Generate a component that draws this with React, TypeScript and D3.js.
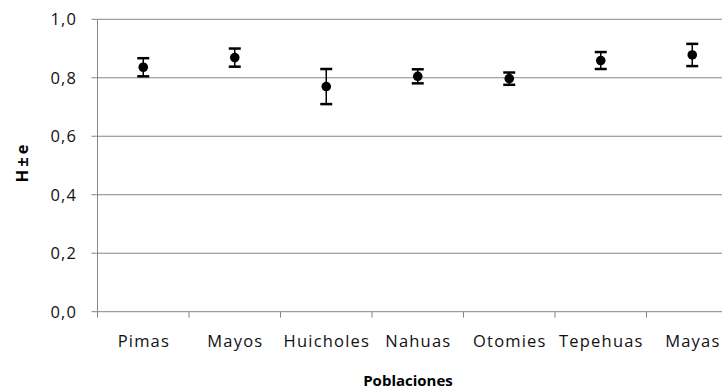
import React from "react";
import * as d3 from "d3";

const populations = ["Pimas", "Mayos", "Huicholes", "Nahuas", "Otomies", "Tepehuas", "Mayas"];
const heterozygosity = [0.836, 0.869, 0.770, 0.805, 0.797, 0.859, 0.878];
const stdError = [0.031, 0.031, 0.060, 0.024, 0.021, 0.029, 0.038];
const yTicks = [0, 0.2, 0.4, 0.6, 0.8, 1.0];

const W = 722;
const H = 390;
const margin = { left: 97.5, top: 19.3, bottom: 78.3 };
const categoryWidth = 91.5;
const font = "'Open Sans', sans-serif";
const labelSize = 16.5;
const spacing = 1.2;

export default function App() {
  const plotBottom = H - margin.bottom;
  const x = d3
    .scaleBand<string>()
    .domain(populations)
    .range([margin.left, margin.left + categoryWidth * populations.length]);
  const y = d3.scaleLinear().domain([0, 1]).range([plotBottom, margin.top]);
  const fmt = (v: number) => d3.format(".1f")(v).replace(".", ",");
  const axisColor = "#868686";
  const tickEdges = populations.map((p) => x(p)!).concat([x.range()[1]]);

  return (
    <div style={{ position: "absolute", left: 0, top: 0 }}>
      <svg width={W} height={H} style={{ display: "block", background: "#fff" }}>
        {/* horizontal gridlines and y ticks */}
        {yTicks.map((t) => (
          <g key={t}>
            <line x1={margin.left} x2={W} y1={y(t)} y2={y(t)} stroke={axisColor} strokeWidth={1} />
            <line x1={margin.left - 6} x2={margin.left} y1={y(t)} y2={y(t)} stroke={axisColor} strokeWidth={1} />
            <text
              x={77.2}
              y={y(t)}
              dy="0.36em"
              textAnchor="end"
              fontFamily={font}
              fontSize={labelSize}
              letterSpacing={spacing}
              fill="#111"
            >
              {fmt(t)}
            </text>
          </g>
        ))}
        {/* y axis line */}
        <line x1={margin.left} x2={margin.left} y1={y(1)} y2={plotBottom} stroke={axisColor} strokeWidth={1} />
        {/* x category ticks */}
        {tickEdges.map((e, i) => (
          <line key={i} x1={e} x2={e} y1={plotBottom} y2={plotBottom + 6} stroke={axisColor} strokeWidth={1} />
        ))}
        {/* category labels */}
        {populations.map((p) => (
          <text
            key={p}
            x={x(p)! + x.bandwidth() / 2 + spacing / 2}
            y={346.7}
            textAnchor="middle"
            fontFamily={font}
            fontSize={labelSize}
            letterSpacing={spacing}
            fill="#111"
          >
            {p}
          </text>
        ))}
        {/* error bars and means */}
        {populations.map((p, i) => {
          const cx = x(p)! + x.bandwidth() / 2;
          const top = y(heterozygosity[i] + stdError[i]);
          const bot = y(heterozygosity[i] - stdError[i]);
          return (
            <g key={p}>
              <line x1={cx} x2={cx} y1={top} y2={bot} stroke="#000" strokeWidth={1.5} />
              <line x1={cx - 6} x2={cx + 6} y1={top} y2={top} stroke="#000" strokeWidth={2.5} />
              <line x1={cx - 6} x2={cx + 6} y1={bot} y2={bot} stroke="#000" strokeWidth={2.5} />
              <circle cx={cx} cy={y(heterozygosity[i])} r={4.8} fill="#000" />
            </g>
          );
        })}
        {/* axis titles */}
        <text
          transform={`translate(27.5,162) rotate(-90)`}
          textAnchor="middle"
          fontFamily={font}
          fontSize={16.5}
          fontWeight="bold"
          letterSpacing={3}
          fill="#000"
        >
          H±e
        </text>
        <text
          x={408}
          y={385.5}
          textAnchor="middle"
          fontFamily={font}
          fontSize={15}
          fontWeight="bold"
          fill="#000"
        >
          Poblaciones
        </text>
      </svg>
    </div>
  );
}
